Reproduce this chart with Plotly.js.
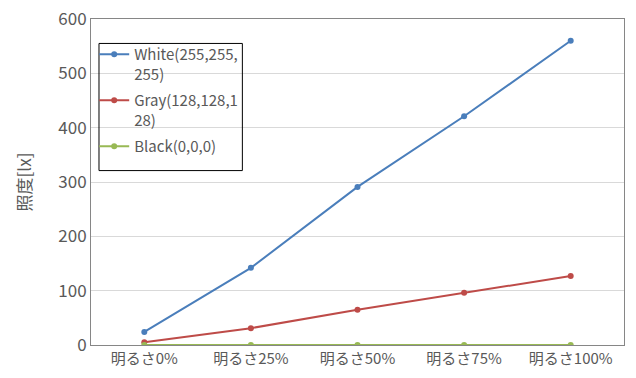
<!DOCTYPE html>
<html>
<head>
<meta charset="utf-8">
<script src="https://cdn.plot.ly/plotly-3.0.1.min.js"></script>
<style>
  html, body { margin: 0; padding: 0; background: #fff; }
  #chart { width: 636px; height: 378px; }
</style>
</head>
<body>
<div id="chart"></div>
<script>
// Illuminance measured at each brightness setting
const categories = ["明るさ0%", "明るさ25%", "明るさ50%", "明るさ75%", "明るさ100%"];
const whiteValues = [24, 142, 291, 421, 560];
const grayValues = [5, 31, 65, 96, 127];
const blackValues = [0, 0, 0, 0, 0];
const seriesNames = ["White(255,255,<br>255)", "Gray(128,128,1<br>28)", "Black(0,0,0)"];
const yTicks = [0, 100, 200, 300, 400, 500, 600];

const FONT = "'Noto Sans CJK JP', 'Noto Sans', sans-serif";
const TEXT = "#595959";

function series(name, values, color, group) {
  return {
    type: "scatter",
    mode: "lines+markers",
    name: name,
    legendgroup: group,
    x: categories,
    y: values,
    line: { color: color, width: 2 },
    marker: { color: color, size: 6 }
  };
}

const data = [
  series(seriesNames[0], whiteValues, "#4a7ebb", "w"),
  series(seriesNames[1], grayValues, "#be4b48", "g"),
  series(seriesNames[2], blackValues, "#98b954", "b")
];

const layout = {
  width: 636,
  height: 378,
  margin: { l: 91, r: 12, t: 19, b: 33 },
  paper_bgcolor: "#fff",
  plot_bgcolor: "#fff",
  font: { family: FONT, color: TEXT, size: 15 },
  showlegend: true,
  legend: {
    x: 0.006, y: 0.942, xanchor: "left", yanchor: "top",
    bgcolor: "rgba(0,0,0,0)",
    borderwidth: 0,
    valign: "top",
    font: { family: FONT, size: 15, color: TEXT },
    itemwidth: 30,
    tracegroupgap: 4
  },
  shapes: [{
    type: "rect", xref: "paper", yref: "paper",
    x0: 0.015, x1: 0.284, y0: 0.535, y1: 0.925,
    line: { color: "#000", width: 1 }, fillcolor: "rgba(0,0,0,0)"
  }],
  xaxis: {
    type: "category",
    range: [-0.5, 4.5],
    showline: true, mirror: true, linecolor: "#868686", linewidth: 1,
    showgrid: false, zeroline: false, ticks: "",
    tickfont: { family: FONT, size: 15, color: TEXT }
  },
  yaxis: {
    range: [0, 600],
    tickvals: yTicks,
    showline: true, mirror: true, linecolor: "#868686", linewidth: 1,
    showgrid: true, gridcolor: "#d9d9d9", gridwidth: 1,
    zeroline: false, ticks: "",
    tickfont: { family: FONT, size: 17, color: TEXT },
    title: { text: "照度[lx]", font: { family: FONT, size: 17, color: TEXT }, standoff: 22 }
  }
};

Plotly.newPlot("chart", data, layout, { displayModeBar: false, staticPlot: true });
</script>
</body>
</html>
